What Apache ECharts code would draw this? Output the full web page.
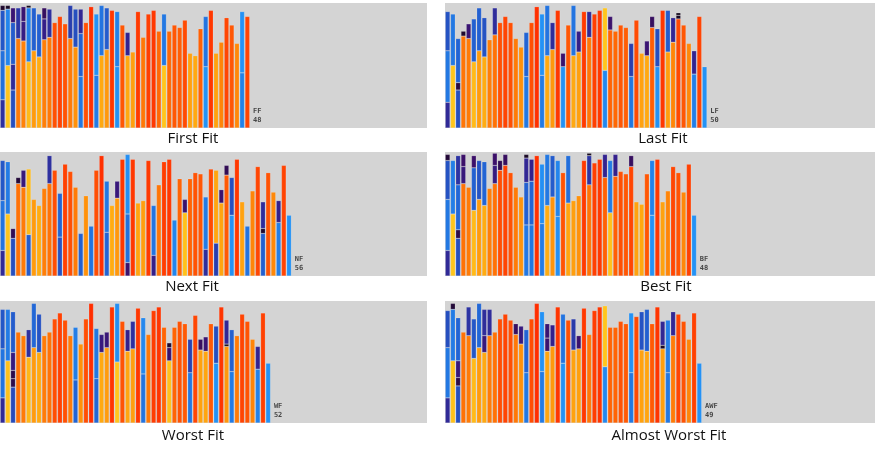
<!DOCTYPE html>
<html>
<head>
<meta charset="utf-8">
<script src="https://cdn.jsdelivr.net/npm/echarts@6/dist/echarts.min.js"></script>
<style>
  html, body { margin: 0; padding: 0; background: #fff; }
  #main { width: 879px; height: 454px; }
</style>
</head>
<body>
<div id="main"></div>
<script>
// item sizes per bin, bottom to top (bin capacity 100)
const ffBins = [[23,40,33,4],[51,46,3],[31,21,34,12],[73,25],[71,16,12],[54,44,2],[63,35],[58,35],[72,17,9],[74,23],[86],[91],[85],[73,27],[66,31],[42,35,20],[86],[99],[43,50],[59,41],[64,34],[96],[50,45],[84],[59,19],[62],[95],[74],[93],[96],[79],[51,42],[79],[84],[82],[88],[61],[59],[81],[50,41],[96],[61],[70],[90],[84],[69],[45,50],[91]];
const lfBins = [[21,42,32],[51,42],[31,6,36],[75,4],[73,12],[54,35],[63,35],[58,32],[72],[76,22],[86],[91],[86],[73],[66],[42,36],[86],[99],[43,50],[59,41],[64,22],[96],[50,11],[84],[59,41],[62,17],[95],[74,21],[93],[96],[47,51],[80,11],[79],[84],[82],[42,27],[88],[61],[59,12],[82,9],[50,31],[96],[62,34],[70,20],[89,3,2],[84],[69],[44,19],[91],[50]];
const nfBins = [[21,41,33],[51,43],[31,8],[76,5],[73,14],[34,54],[63],[58],[72],[76,23],[87],[32,36],[92],[86],[73],[35],[66],[41],[87],[99],[36,42],[58],[64,14],[96],[11,40,49],[96],[60],[62],[95],[17,41],[75],[94],[96],[46],[80],[52,11],[80],[85],[84],[22,43],[88],[27,60],[60,11],[83,8],[50,31],[96],[61],[41],[70],[90],[35,4,22],[85],[69],[44,18],[91],[50]];
const bfBins = [[21,42,32,5],[51,44],[31,7,37,24],[76,14,10],[73],[54,35,10],[63,32],[58,36],[72],[76,15,10],[87,8],[91,9],[85],[73],[65],[42,35,20,3],[42,36,18],[99],[43,49],[58,42],[65,34],[49,46],[85],[60,39],[62],[66],[95],[75,24,2],[93],[96],[81,19],[52,43],[82,18],[86],[84],[90,9],[61],[59],[84],[50,45],[96],[61],[70],[90],[85],[69],[92],[50]];
const wfBins = [[21,41,33],[52,43],[30,7,7,15,34],[76],[73],[55,23],[63,37],[59,32],[73],[76],[87],[92],[86],[73],[36,44],[66],[87],[100],[37,42],[59,15],[63,13],[97],[51,49],[85],[60,18],[62,23],[96],[41,47],[74],[94],[97],[80],[52,11,4],[80],[85],[83],[42,28],[90],[61,9],[60,12],[83],[50,31],[97],[64,2,20],[43,35],[73],[91],[85],[70],[45,19],[92],[50]];
const awfBins = [[21,42,31],[52,43,5],[31,7,14,36],[76],[73,24],[54,33],[63,37],[59,14,22],[73,22],[76],[87],[91],[86],[74,9],[66,15],[42,36],[87],[100],[43,50],[60,11,12],[64,18],[97],[50,41],[86],[61,26],[62,11],[96],[74],[94],[97],[47,51],[80],[80],[85],[83],[42,50],[89],[61,32],[60,35],[83],[97],[62,3,20],[42,44],[73,20],[91],[85],[70],[92],[50]];

const panelTitles = ['First Fit', 'Last Fit', 'Next Fit', 'Best Fit', 'Worst Fit', 'Almost Worst Fit'];
const panelCodes = ['FF', 'LF', 'NF', 'BF', 'WF', 'AWF'];
const panelBins = [ffBins, lfBins, nfBins, bfBins, wfBins, awfBins];

// layout
const slotCount = 82;
const slots = Array.from({ length: slotCount }, (_, i) => String(i));
const gridBoxes = [
  { left: -3, top: 3, width: 430, height: 125 },
  { left: 445, top: 3, width: 430, height: 125 },
  { left: -3, top: 152, width: 430, height: 124 },
  { left: 445, top: 152, width: 430, height: 124 },
  { left: -3, top: 301, width: 430, height: 122 },
  { left: 445, top: 301, width: 430, height: 122 },
];
const titlePos = [[193, 131], [663, 131], [192, 279], [666, 279], [193, 428], [669, 428]];

// colour by item size: small -> dark purple/blue, big -> yellow/red
const coldStops = [[0, [10, 10, 10]], [4, [30, 8, 46]], [10, [60, 16, 105]], [18, [52, 32, 140]], [26, [42, 58, 170]], [36, [34, 100, 212]], [50, [36, 146, 245]]];
const warmStops = [[50, [255, 200, 30]], [58, [255, 172, 18]], [66, [255, 145, 10]], [76, [255, 114, 6]], [86, [255, 80, 4]], [100, [255, 46, 0]]];
function lerpStops(stops, v) {
  if (v <= stops[0][0]) return stops[0][1];
  for (let i = 1; i < stops.length; i++) {
    if (v <= stops[i][0]) {
      const a = stops[i - 1], b = stops[i];
      const t = (v - a[0]) / (b[0] - a[0]);
      return a[1].map((c, j) => Math.round(c + (b[1][j] - c) * t));
    }
  }
  return stops[stops.length - 1][1];
}
function itemColor(v) {
  const c = v > 50 ? lerpStops(warmStops, v) : lerpStops(coldStops, v);
  return 'rgb(' + c.join(',') + ')';
}

const grid = [];
const xAxis = [];
const yAxis = [];
const series = [];
const title = [];

panelBins.forEach((bins, p) => {
  grid.push(Object.assign({ show: true, backgroundColor: '#d4d4d4', borderWidth: 0 }, gridBoxes[p]));
  xAxis.push({
    type: 'category', gridIndex: p, data: slots,
    axisLine: { show: false }, axisTick: { show: false }, axisLabel: { show: false }, splitLine: { show: false },
  });
  yAxis.push({
    type: 'value', gridIndex: p, min: 0, max: 102,
    axisLine: { show: false }, axisTick: { show: false }, axisLabel: { show: false }, splitLine: { show: false },
  });
  const layers = Math.max(...bins.map((b) => b.length));
  for (let k = 0; k < layers; k++) {
    series.push({
      type: 'bar',
      xAxisIndex: p,
      yAxisIndex: p,
      stack: 'bins' + p,
      barCategoryGap: '10%',
      silent: true,
      animation: false,
      data: bins.map((b) => (b[k] === undefined ? '-' : b[k])),
      itemStyle: {
        color: (params) => itemColor(params.value),
        borderColor: 'rgba(255,255,255,0.3)',
        borderWidth: 0.5,
      },
    });
  }
  // algorithm code + number of bins, right after the last bin
  series.push({
    type: 'scatter',
    xAxisIndex: p,
    yAxisIndex: p,
    symbolSize: 1,
    silent: true,
    animation: false,
    itemStyle: { color: 'rgba(0,0,0,0)' },
    data: [[bins.length, 10]],
    label: {
      show: true,
      position: 'right',
      distance: 0,
      formatter: panelCodes[p] + '\n' + bins.length,
      fontSize: 7,
      lineHeight: 9,
      fontWeight: 'bold',
      fontFamily: 'DejaVu Sans Mono',
      color: '#222',
      align: 'left',
    },
  });
  title.push({
    text: panelTitles[p],
    left: titlePos[p][0],
    top: titlePos[p][1],
    textAlign: 'center',
    padding: 0,
    textStyle: { fontSize: 15, fontWeight: 'normal', fontFamily: 'Open Sans', color: '#111' },
  });
});

const chart = echarts.init(document.getElementById('main'), null, { renderer: 'canvas' });
chart.setOption({ animation: false, title, grid, xAxis, yAxis, series });
window.onresize = function () {
  chart.resize();
};
</script>
</body>
</html>
